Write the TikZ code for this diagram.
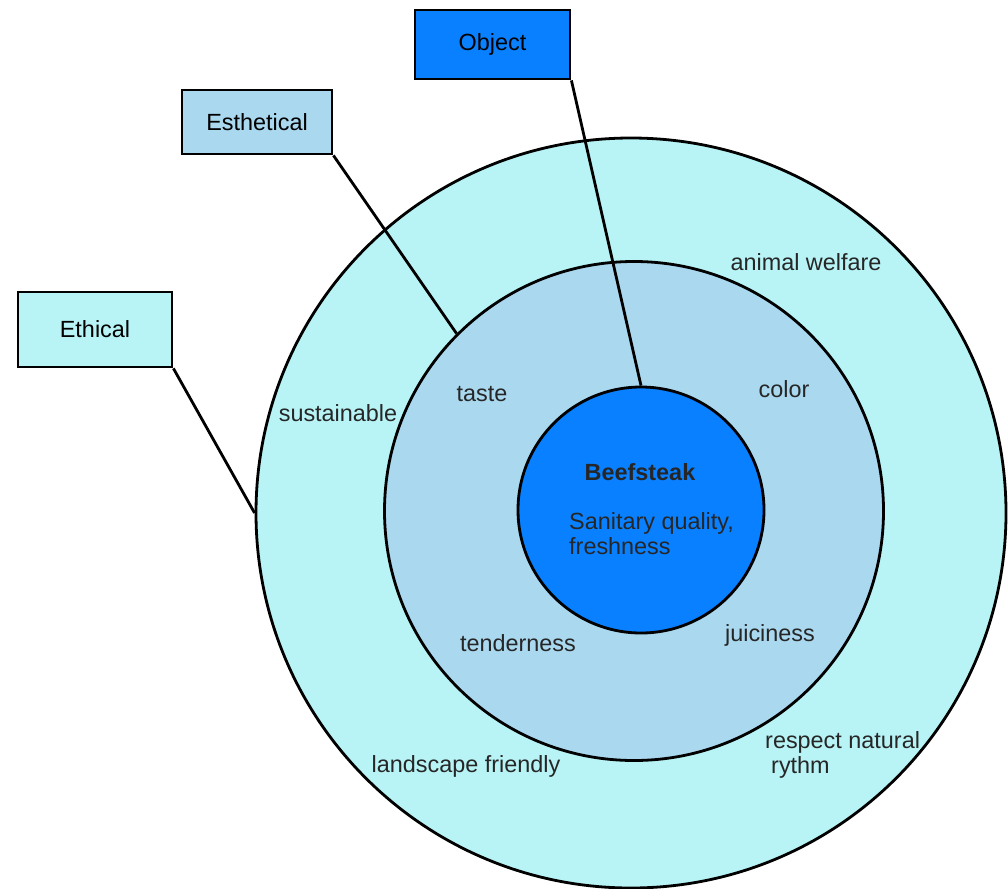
\documentclass[tikz,border=0pt]{standalone}
\usepackage{fontspec}
\setmainfont{Liberation Sans}
\usetikzlibrary{shapes, arrows}
\definecolor{ethblue}{HTML}{B8F4F6}
\definecolor{estblue}{HTML}{A9D8EF}
\definecolor{objblue}{HTML}{0880FF}
\tikzstyle{ethcell} = [rectangle, draw, line width=2.8pt, fill=ethblue, minimum width=154pt, text centered, minimum height=75pt, inner sep=0pt]
\tikzstyle{estcell} = [rectangle, draw, line width=2.8pt, fill=estblue, minimum width=150pt, text centered, minimum height=64pt, inner sep=0pt]
\tikzstyle{objcell} = [rectangle, draw, line width=2.8pt, fill=objblue, minimum width=155pt, text centered, minimum height=69pt, inner sep=0pt]
\tikzstyle{ring} = [circle, draw, line width=2.8pt, inner sep=0pt]
\tikzstyle{line} = [draw, line width=2.8pt]
\tikzstyle{word} = [inner sep=0pt, text=black!85]

\begin{document}
\begin{tikzpicture}[x=1pt, y=-1pt, font=\fontsize{23.4}{25}\selectfont]
    \useasboundingbox (0,0) rectangle (1008,888);
    \node[ring, fill=ethblue, minimum size=750pt](outer) at (631,513){};
    \node[ring, fill=estblue, minimum size=499pt](middle) at (634,511){};
    \node[ring, fill=objblue, minimum size=246pt](inner) at (641,510){};

    \node[objcell](object) at (492.5,44.5){Object};
    \node[estcell](esthetical) at (257,122){Esthetical};
    \node[ethcell](ethical) at (95,329.5){Ethical};

    \path[line] (object.south east)     -- (inner.north);
    \path[line] (esthetical.south east) -- (middle.135);
    \path[line] (ethical.south east)    -- (outer.west);

    \node[word, font=\fontsize{23.4}{25}\selectfont\bfseries](beef) at (640,472){Beefsteak};
    \node[word, anchor=west, align=left](sanitary) at (569,534){Sanitary quality,\\freshness};
    \node[word](taste) at (482,394){taste};
    \node[word](color) at (784,389){color};
    \node[word](tenderness) at (518,643){tenderness};
    \node[word](juiciness) at (770,635){juiciness};
    \node[word](animal) at (806,262){animal welfare};
    \node[word](sustainable) at (338,413){sustainable};
    \node[word](landscape) at (466,766){landscape friendly};
    \node[word, anchor=west, align=left](respect) at (765,755){respect natural\\\hspace{6pt}rythm};
\end{tikzpicture}
\end{document}
